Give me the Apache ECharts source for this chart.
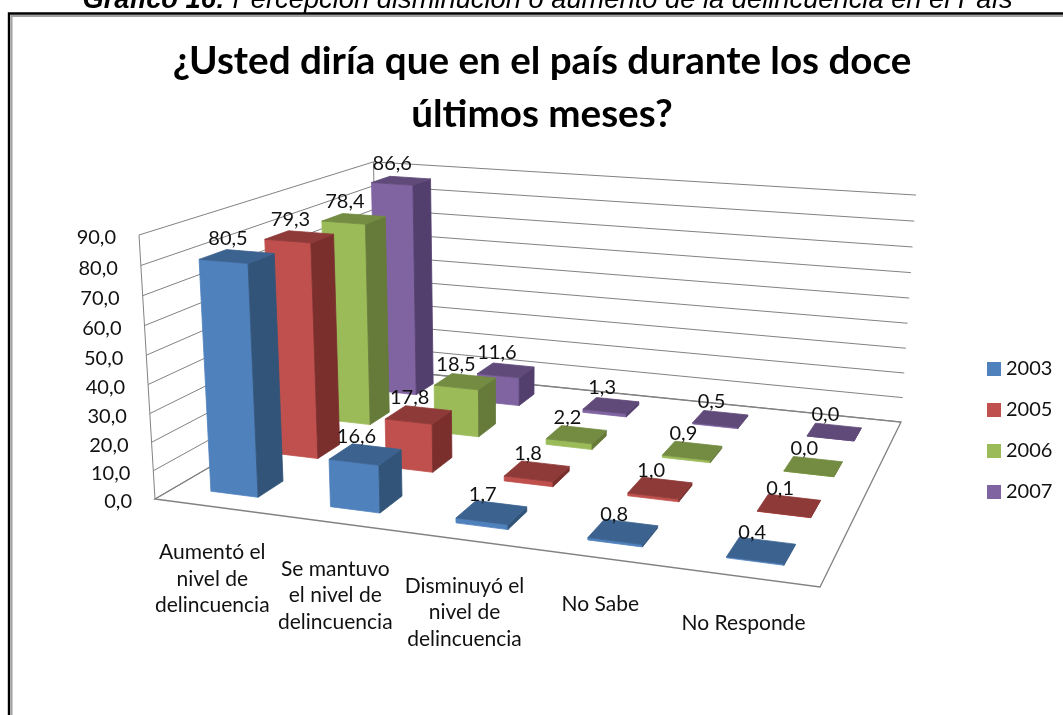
<!DOCTYPE html>
<html>
<head>
<meta charset="utf-8">
<style>html,body{margin:0;padding:0;background:#fff}#main{width:1063px;height:715px}</style>
<script src="https://cdn.jsdelivr.net/npm/echarts@6/dist/echarts.min.js"></script>
</head>
<body>
<div id="main"></div>
<script>
// ---------- data ----------
const categories = ['Aumentó el\nnivel de\ndelincuencia', 'Se mantuvo\nel nivel de\ndelincuencia', 'Disminuyó el\nnivel de\ndelincuencia', 'No Sabe', 'No Responde'];
const years = ['2003', '2005', '2006', '2007'];
const values2003 = [80.5, 16.6, 1.7, 0.8, 0.4];
const values2005 = [79.3, 17.8, 1.8, 1.0, 0.1];
const values2006 = [78.4, 18.5, 2.2, 0.9, 0.0];
const values2007 = [86.6, 11.6, 1.3, 0.5, 0.0];
const yTicks = [0, 10, 20, 30, 40, 50, 60, 70, 80, 90];
const chartTitle = '¿Usted diría que en el país durante los doce\núltimos meses?';
const captionBold = 'Gráfico 16:';
const captionRest = ' Percepción disminución o aumento de la delincuencia en el País';

// ---------- styles ----------
const fontName = 'Lato, "Open Sans", sans-serif';
const palette = [
  { front: '#4F81BD', top: '#3C6390', side: '#325479' },
  { front: '#C0504D', top: '#8E3A38', side: '#7A2F2D' },
  { front: '#9BBB59', top: '#738C42', side: '#667A3A' },
  { front: '#8064A2', top: '#5F4A79', side: '#533F6D' }
];
const fmt = v => v.toFixed(1).replace('.', ',');

// ---------- perspective frame: floor and wall anchors on the page ----------
const floorFL = [155, 499], floorFR = [820, 587], floorBR = [901, 422], floorBL = [378, 369];
const wallTopFL = [139, 235], wallTopBRx = 916;
const perspective = (function () {
  const [x0, y0] = floorFL, [x1, y1] = floorFR, [x2, y2] = floorBR, [x3, y3] = floorBL;
  const dx1 = x1 - x2, dx2 = x3 - x2, sx = x0 - x1 + x2 - x3;
  const dy1 = y1 - y2, dy2 = y3 - y2, sy = y0 - y1 + y2 - y3;
  const den = dx1 * dy2 - dx2 * dy1;
  const g = (sx * dy2 - dx2 * sy) / den, h = (dx1 * sy - sx * dy1) / den;
  const a = x1 - x0 + g * x1, b = x3 - x0 + h * x3, c = x0;
  const d = y1 - y0 + g * y1, e = y3 - y0 + h * y3, f = y0;
  const w = (a + b + wallTopFL[0] - wallTopBRx * (g + h + 1)) / (wallTopBRx - wallTopFL[0]);
  const vx = wallTopFL[0] * (1 + w) - c, vy = wallTopFL[1] * (1 + w) - f;
  return (u, z, t) => {
    const q = g * u + h * z + 1 + w * t;
    return [(a * u + b * z + c + vx * t) / q, (d * u + e * z + f + vy * t) / q];
  };
})();

// library scale -> normalised position inside the hidden grid -> page perspective
function normU(px, cs) { return (px - cs.x) / cs.width; }
function normH(py, cs) { return (cs.y + cs.height - py) / cs.height; }

const barFill = 0.4;
const labelDX = -9, labelDY = -17.5;
const numberFont = '20px ' + fontName;
const categoryFont = '21px ' + fontName;
const frameLine = '#828282';
function barItem(depthIndex) {
  return function (params, api) {
    const cs = params.coordSys;
    const cat = api.value(0), val = api.value(1);
    const pt = api.coord([cat, val]);
    const band = api.size([1, 0])[0] / cs.width;
    const uc = normU(pt[0], cs), t = normH(pt[1], cs);
    const u0 = uc - band * barFill / 2, u1 = uc + band * barFill / 2;
    const zc = (depthIndex + 0.5) / years.length, zh = barFill / years.length / 2;
    const z0 = zc - zh, z1 = zc + zh;
    const col = palette[depthIndex];
    const A = perspective(u0, z0, 0), B = perspective(u1, z0, 0), C = perspective(u1, z1, 0);
    const D = perspective(u0, z0, t), E = perspective(u1, z0, t), F = perspective(u1, z1, t), G = perspective(u0, z1, t);
    const c = perspective(uc, zc, t);
    const poly = (pts, fill) => ({ type: 'polygon', shape: { points: pts }, style: { fill, stroke: fill, lineWidth: 0.8 } });
    return {
      type: 'group',
      children: [
        poly([A, B, E, D], col.front),
        poly([B, C, F, E], col.side),
        poly([D, E, F, G], col.top),
        { type: 'text', z2: 100, style: { text: fmt(val), x: c[0] + labelDX, y: c[1] + labelDY, align: 'center', verticalAlign: 'middle', fill: '#111', font: numberFont } }
      ]
    };
  };
}

function wallItem(params, api) {
  const cs = params.coordSys;
  const tick = api.value(1);
  const t = normH(api.coord([0, tick])[1], cs);
  const a = perspective(0, 0, t), b = perspective(0, 1, t), c = perspective(1, 1, t);
  const kids = [
    { type: 'polyline', shape: { points: [a, b, c] }, style: { fill: null, stroke: frameLine, lineWidth: 1 } },
    { type: 'text', style: { text: fmt(tick), x: a[0] - 23, y: a[1] + 3, align: 'right', verticalAlign: 'middle', fill: '#111', font: numberFont } }
  ];
  if (tick === 0) {
    const d = perspective(1, 0, 0), top = perspective(0, 0, 1), backTop = perspective(0, 1, 1);
    kids.push({ type: 'polygon', shape: { points: [a, b, c, d] }, style: { fill: null, stroke: frameLine, lineWidth: 1.3 } });
    kids.push({ type: 'line', shape: { x1: a[0], y1: a[1], x2: top[0], y2: top[1] }, style: { stroke: frameLine, lineWidth: 1 } });
    kids.push({ type: 'line', shape: { x1: b[0], y1: b[1], x2: backTop[0], y2: backTop[1] }, style: { stroke: frameLine, lineWidth: 1 } });
  }
  return { type: 'group', children: kids };
}

function categoryItem(params, api) {
  const cs = params.coordSys;
  const i = api.value(0);
  const u = normU(api.coord([i, 0])[0], cs);
  const p = perspective(u, 0, 0);
  return { type: 'text', style: { text: categories[i], x: p[0] - 2, y: p[1] + 32.5, align: 'center', verticalAlign: 'top', fill: '#111', font: categoryFont, lineHeight: 26.5 } };
}

const seriesValues = [values2003, values2005, values2006, values2007];
const barSeries = years.map((y, s) => ({
  name: y,
  type: 'custom',
  renderItem: barItem(s),
  coordinateSystem: 'cartesian2d',
  itemStyle: { color: palette[s].front },
  data: seriesValues[s].map((v, i) => [i, v])
})).reverse();

const chart = echarts.init(document.getElementById('main'), null, { renderer: 'canvas' });
chart.setOption({
  animation: false,
  backgroundColor: '#fff',
  title: {
    text: chartTitle, left: 537, top: 30, textAlign: 'center',
    textStyle: { fontFamily: fontName, fontWeight: 'bold', fontSize: 38.6, lineHeight: 53, color: '#000' }
  },
  legend: {
    orient: 'vertical', left: 982, top: 354, itemWidth: 14, itemHeight: 14, itemGap: 21,
    icon: 'rect', data: years, selectedMode: false,
    textStyle: { fontFamily: fontName, fontSize: 20, color: '#111' }, itemStyle: { borderWidth: 0 }
  },
  grid: { left: 100, top: 100, width: 500, height: 450, show: false },
  xAxis: { type: 'category', data: categories, show: false },
  yAxis: { type: 'value', min: 0, max: 90, interval: 10, show: false },
  graphic: [
    { type: 'rect', silent: true, z: -1, shape: { x: 9, y: 13.5, width: 1100, height: 800 }, style: { fill: null, stroke: '#000', lineWidth: 2.4 } },
    { type: 'rect', silent: true, z: -1, shape: { x: 11.5, y: 16, width: 1100, height: 800 }, style: { fill: null, stroke: '#a0a0a0', lineWidth: 2 } },
    { type: 'text', silent: true, style: {
        x: 547.5, y: 0, align: 'center', verticalAlign: 'middle',
        text: '{b|' + captionBold + '}{i|' + captionRest + '}',
        rich: {
          b: { fontFamily: 'Liberation Sans', fontStyle: 'italic', fontWeight: 'bold', fontSize: 27.3, fill: '#000' },
          i: { fontFamily: 'Liberation Sans', fontStyle: 'italic', fontSize: 27.3, fill: '#000' }
        }
      } }
  ],
  series: [
    { name: 'walls', type: 'custom', renderItem: wallItem, silent: true, data: yTicks.map(t => [0, t]) }
  ].concat(barSeries, [
    { name: 'categories', type: 'custom', renderItem: categoryItem, silent: true, data: categories.map((c, i) => [i, 0]) }
  ])
});
</script>
</body>
</html>
